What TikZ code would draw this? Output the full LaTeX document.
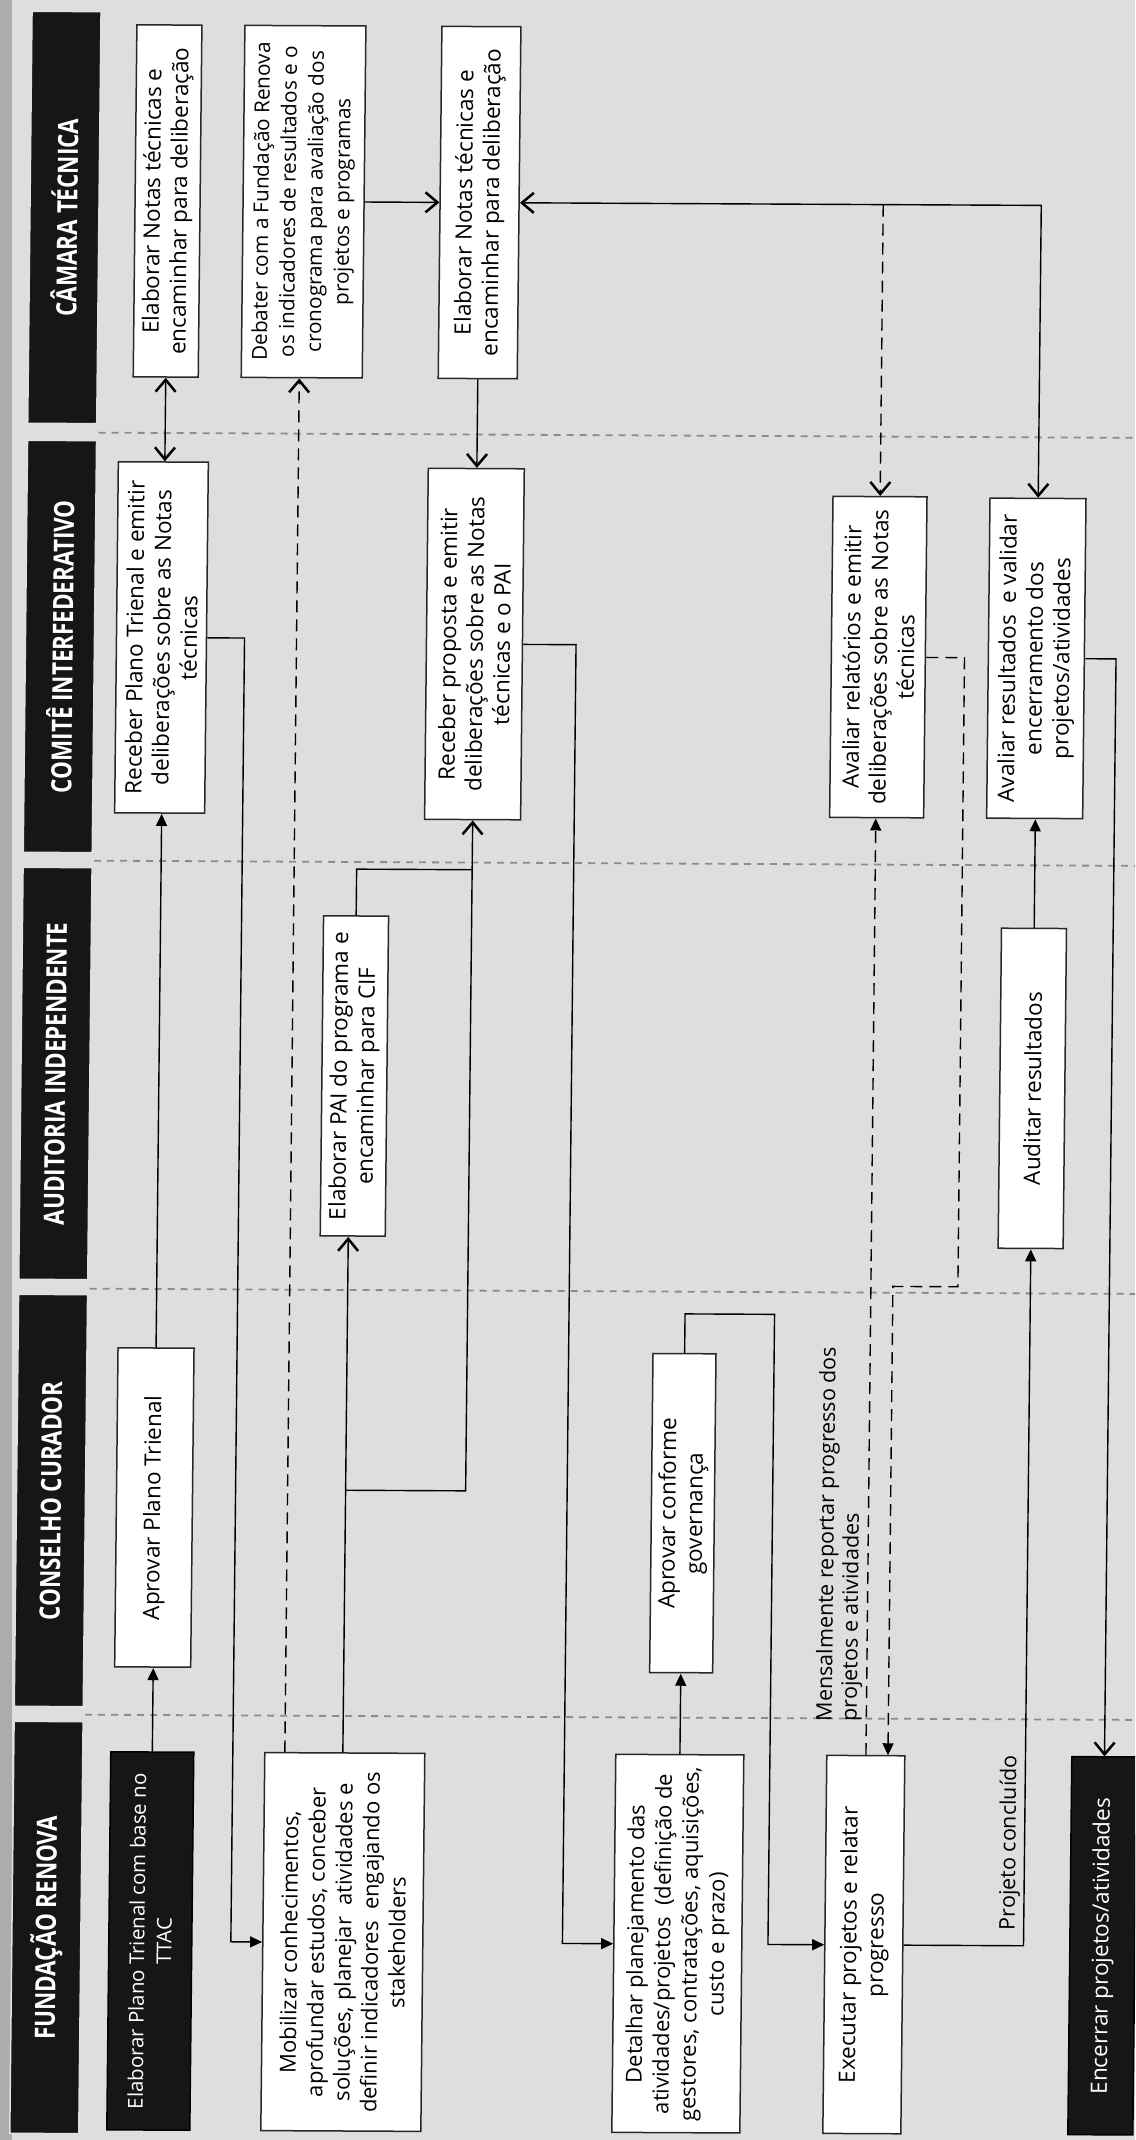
\documentclass[tikz,border=0pt]{standalone}
\usepackage{fontspec}
\setmainfont{Open Sans}
\newfontfamily\hdrfont{Open Sans}[FakeStretch=0.8]
\usetikzlibrary{arrows.meta}
\definecolor{bg}{RGB}{222,222,224}
\definecolor{edgec}{RGB}{172,172,174}
\definecolor{sepc}{RGB}{140,140,142}
\definecolor{boxline}{RGB}{40,40,40}
\definecolor{hdr}{RGB}{22,22,22}
\tikzset{
  OBarb/.tip={Straight Barb[length=12pt,width=20pt,line width=2.5pt]},
  FTri/.tip={Triangle[length=12pt,width=11pt]},
  box/.style={draw=boxline, line width=1.5pt, fill=white, inner sep=0pt},
  blk/.style={draw=black, line width=1.5pt, fill=hdr, inner sep=0pt},
  txt/.style={rotate=90, align=center, inner sep=0pt, font=\fontsize{22.5}{27}\selectfont},
  smalltxt/.style={txt, font=\fontsize{20.7}{27}\selectfont},
  wtxt/.style={txt, text=white},
  lbl/.style={rotate=90, align=left, inner sep=0pt, font=\fontsize{21.5}{25}\selectfont},
  hbar/.style={fill=hdr, draw=white!88!black, line width=1.5pt, minimum width=69pt, minimum height=412pt, inner sep=0pt},
  htxt/.style={rotate=90, text=white, inner sep=0pt, font=\hdrfont\bfseries\fontsize{28}{30}\selectfont},
  lanesep/.style={draw=sepc, line width=1.8pt, dash pattern=on 7pt off 6pt},
  con/.style={draw=black, line width=1.4pt},
  dcon/.style={con, dash pattern=on 12pt off 7pt},
}
\begin{document}
\begin{tikzpicture}[x=1pt,y=-1pt]
\useasboundingbox (0,0) rectangle (1135,2140);
\clip (0,0) rectangle (1135,2140);
\fill[bg] (0,0) rectangle (1135,2140);
\fill[edgec] (0,0) rectangle (12,2140);
\begin{scope}[cm={1,-0.005,0.0105,1,(11.2pt,2.8pt)}, transform shape]
% lane separators
\draw[lanesep] (92,435) -- (1150,435);
\draw[lanesep] (92,863) -- (1150,863);
\draw[lanesep] (92,1291) -- (1150,1291);
\draw[lanesep] (92,1717) -- (1150,1717);
% headers
\node[hbar] (hct) at (55.5,220) {};
\node[htxt] (hctT) at (hct) {CÂMARA TÉCNICA};
\node[hbar] (hcif) at (55.5,649) {};
\node[htxt] (hcifT) at (hcif) {COMITÊ INTERFEDERATIVO};
\node[hbar] (hai) at (55.5,1076) {};
\node[htxt] (haiT) at (hai) {AUDITORIA INDEPENDENTE};
\node[hbar] (hcc) at (55.5,1503) {};
\node[htxt] (hccT) at (hcc) {CONSELHO CURADOR};
\node[hbar] (hfr) at (55.5,1930) {};
\node[htxt] (hfrT) at (hfr) {FUNDAÇÃO RENOVA};
% boxes
\node[box, minimum width=65pt, minimum height=352pt] (ct1) at (158.5,203) {};
\node[txt] (ct1T) at (ct1) {Elaborar Notas técnicas e\\encaminhar para deliberação};
\node[box, minimum width=121pt, minimum height=352pt] (ct2) at (294.5,203) {};
\node[smalltxt] (ct2T) at (ct2) {Debater com a Fundação Renova\\os indicadores de resultados e o\\cronograma para avaliação dos\\projetos e programas};
\node[box, minimum width=79pt, minimum height=352pt] (ct3) at (470.5,203) {};
\node[txt] (ct3T) at (ct3) {Elaborar Notas técnicas e\\encaminhar para deliberação};
\node[box, minimum width=90pt, minimum height=351pt] (cif1) at (157,639.5) {};
\node[txt] (cif1T) at (cif1) {Receber Plano Trienal e emitir\\deliberações sobre as Notas\\técnicas};
\node[box, minimum width=96pt, minimum height=351pt] (cif2) at (470,644.5) {};
\node[txt] (cif2T) at (cif2) {Receber proposta e emitir\\deliberações sobre as Notas\\técnicas e o PAI};
\node[box, minimum width=94pt, minimum height=321pt] (cif3) at (874,655.5) {};
\node[txt] (cif3T) at (cif3) {Avaliar relatórios e emitir\\deliberações sobre as Notas\\técnicas};
\node[box, minimum width=96pt, minimum height=320pt] (cif4) at (1032,656) {};
\node[txt] (cif4T) at (cif4) {Avaliar resultados~ e validar\\encerramento dos\\projetos/atividades};
\node[box, minimum width=65pt, minimum height=320pt] (ai1) at (354.5,1077) {};
\node[txt] (ai1T) at (ai1) {Elaborar PAI do programa e\\encaminhar para CIF};
\node[box, minimum width=65pt, minimum height=320pt] (ai2) at (1032.5,1086) {};
\node[txt] (ai2T) at (ai2) {Auditar resultados};
\node[box, minimum width=76pt, minimum height=319pt] (cc1) at (159,1509.5) {};
\node[txt] (cc1T) at (cc1) {Aprovar Plano Trienal};
\node[box, minimum width=63pt, minimum height=319pt] (cc2) at (687.5,1512.5) {};
\node[txt] (cc2T) at (cc2) {Aprovar conforme\\governança};
\node[blk, minimum width=83pt, minimum height=378pt] (fr1) at (159.5,1943) {};
\node[wtxt, font=\fontsize{20.4}{27}\selectfont] (fr1T) at (fr1) {Elaborar Plano Trienal com base no\\TTAC};
\node[box, minimum width=160pt, minimum height=378pt] (fr2) at (352,1943) {};
\node[txt, font=\fontsize{22}{27}\selectfont] (fr2T) at (fr2) {Mobilizar conhecimentos,\\aprofundar estudos, conceber\\soluções, planejar~ atividades e\\definir indicadores~ engajando os\\stakeholders};
\node[box, minimum width=128pt, minimum height=378pt] (fr3) at (687,1943) {};
\node[txt, font=\fontsize{22}{27}\selectfont] (fr3T) at (fr3) {Detalhar planejamento das\\atividades/projetos~ (definição de\\gestores, contratações, aquisições,\\custo e prazo)};
\node[box, minimum width=78pt, minimum height=378pt] (fr4) at (873,1943) {};
\node[txt] (fr4T) at (fr4) {Executar projetos e relatar\\progresso};
\node[blk, minimum width=65pt, minimum height=378pt] (fr5) at (1111.5,1943) {};
\node[wtxt] (fr5T) at (fr5) {Encerrar projetos/atividades};
% connectors
\draw[con, OBarb-OBarb] (ct1.south) -- (ct1.south |- cif1.north);
\draw[con, -FTri] (fr1.north) -- (fr1.north |- cc1.south);
\draw[con, -FTri] (cc1.north) -- (cc1.north |- cif1.south);
\coordinate (k1) at (240,639.5);
\draw[con, -FTri] (cif1.east) -- (k1) |- (fr2.west);
\coordinate (d1) at (292,0);
\draw[dcon, -OBarb] (fr2.north -| d1) -- (ct2.south -| d1);
\coordinate (j1) at (350,1491);
\draw[con, -OBarb] (fr2.north -| j1) -- (ai1.south -| j1);
\draw[con, -OBarb] (j1) -| (cif2.south);
\coordinate (j2) at (470,870);
\draw[con] (ai1.north) |- (j2);
\draw[con, -OBarb] (ct2.east) -- (ct3.west);
\draw[con, -OBarb] (ct3.south) -- (ct3.south |- cif2.north);
\draw[con, OBarb-OBarb] (ct3.east) -| (cif4.north);
\draw[dcon, -OBarb] (ct3.east -| cif3.north) -- (cif3.north);
\coordinate (k2) at (571.5,644.5);
\draw[con, -FTri] (cif2.east) -- (k2) |- (fr3.west);
\draw[con, -FTri] (fr3.north) -- (fr3.north |- cc2.south);
\coordinate (k3) at (777,1313);
\draw[con, -FTri] (cc2.north) |- (k3) |- (fr4.west);
\draw[dcon, -FTri] (fr4.north) -- (fr4.north |- cif3.south);
\coordinate (k4) at (960,1284.5);
\coordinate (k5) at (895,0);
\draw[dcon, -FTri] (cif3.east) -| (k4) -| (fr4.north -| k5);
\draw[con, -FTri] (fr4.east) -| (ai2.south);
\draw[con, -FTri] (ai2.north) -- (ai2.north |- cif4.south);
\draw[con, -OBarb] (cif4.east) -| (fr5.north);
% labels
\node[lbl, anchor=west] (lab1) at (845.5,1720) {Mensalmente reportar progresso dos\\projetos e atividades};
\node[lbl, anchor=west] (lab2) at (1018,1928) {Projeto concluído};
\end{scope}
\end{tikzpicture}
\end{document}
